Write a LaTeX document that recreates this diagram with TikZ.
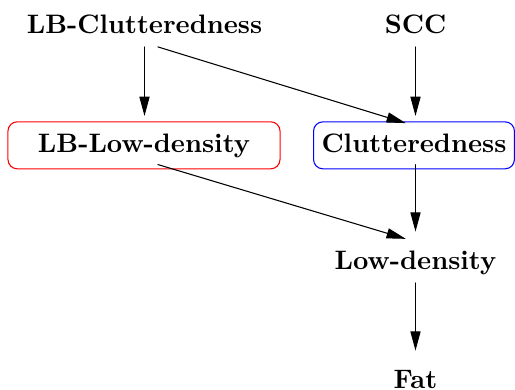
\documentclass[tikz,border=0pt]{standalone}
\usetikzlibrary{arrows.meta}
\begin{document}
\begin{tikzpicture}[x=0.3745pt, y=-0.3745pt, line cap=round, line join=round, >={Triangle[length=7.2pt,width=3.8pt]}]
  \tikzset{var/.style={font=\bfseries, text height=7pt, text depth=2pt, inner sep=3pt, anchor=base},
           boxed/.style={var, draw, rounded corners=3.5pt, inner ysep=4.3pt, outer ysep=-1.6pt},
           arr/.style={->, shorten >=3.8pt}}
  \useasboundingbox (0,0) rectangle (515,390);
  % variables
  \node[var] (lbclut) at (144.5,33) {LB-Clutteredness};
  \node[var] (scc) at (415.5,33) {SCC};
  \node[boxed, red, text=black, minimum width=101.9pt] (lblow) at (144,152) {LB-Low-density};
  \node[boxed, blue, text=black, minimum width=74.5pt] (clut) at (414,152) {Clutteredness};
  \node[var] (low) at (415.5,269) {Low-density};
  \node[var] (fat) at (415.5,388) {Fat};
  % dependencies
  \draw[arr] (lbclut.south) -- (lbclut.south |- lblow.north);
  \draw[arr] ([xshift=5pt]lbclut.south) -- (scc.south |- clut.north);
  \draw[arr] (scc.south) -- (scc.south |- clut.north);
  \draw[arr] ([xshift=5.2pt]lblow.south) -- (low.north);
  \draw[arr] (low.south |- clut.south) -- (low.north);
  \draw[arr] (low.south) -- (fat.north);
\end{tikzpicture}
\end{document}
